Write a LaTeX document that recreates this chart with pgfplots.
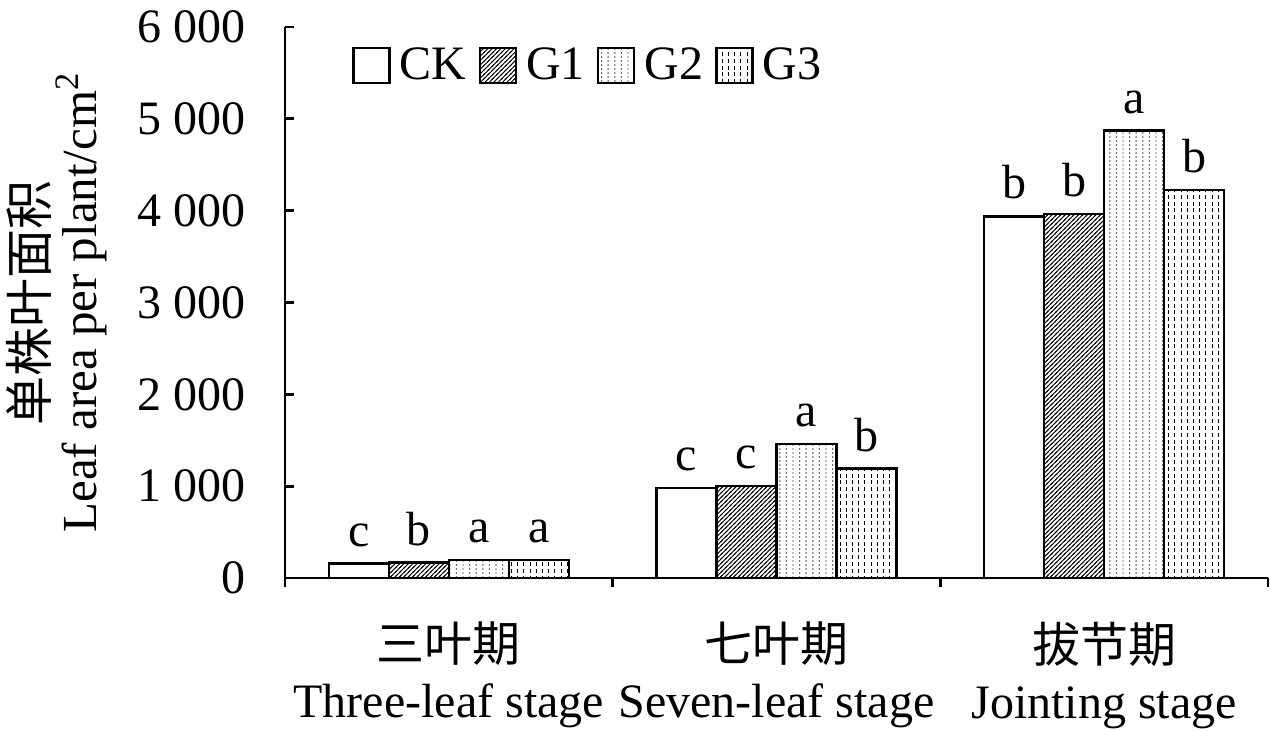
\documentclass[border=0pt]{standalone}
\usepackage{fontspec}
\setmainfont{Liberation Serif}
\newfontfamily\cjk{Noto Sans CJK SC}
\usepackage{pgfplots}
\pgfplotsset{compat=1.18}
\usetikzlibrary{patterns}

\pgfdeclarepatternformonly{mydiag}{\pgfpoint{-1pt}{-1pt}}{\pgfpoint{3.2pt}{3.2pt}}{\pgfpoint{2.2pt}{2.2pt}}{%
  \pgfsetlinewidth{0.45pt}\pgfpathmoveto{\pgfpoint{-0.5pt}{-0.5pt}}\pgfpathlineto{\pgfpoint{2.7pt}{2.7pt}}\pgfusepath{stroke}}
\pgfdeclarepatternformonly{mydots}{\pgfpoint{-0.5pt}{-0.5pt}}{\pgfpoint{3.8pt}{2.5pt}}{\pgfpoint{3.3pt}{2pt}}{%
  \pgfpathcircle{\pgfpoint{0.5pt}{0.5pt}}{0.36pt}\pgfusepath{fill}}
\pgfdeclarepatternformonly{myvdash}{\pgfpoint{-0.5pt}{-0.5pt}}{\pgfpoint{3.5pt}{4pt}}{\pgfpoint{3.1pt}{3.4pt}}{%
  \pgfsetlinewidth{0.45pt}\pgfpathmoveto{\pgfpoint{1.5pt}{0.4pt}}\pgfpathlineto{\pgfpoint{1.5pt}{2.4pt}}\pgfusepath{stroke}}

\begin{document}
\begin{tikzpicture}
\begin{axis}[
  scale only axis,
  width=491.5pt, height=275.5pt,
  font=\fontsize{24}{28}\selectfont,
  axis lines*=left,
  axis line style={line width=1.4pt},
  xmin=0, xmax=3, ymin=0, ymax=6000,
  xtick={0,1,2,3},
  x tick label as interval,
  xticklabels={{{\cjk 三叶期}\\Three-leaf stage},{{\cjk 七叶期}\\Seven-leaf stage},{{\cjk 拔节期}\\Jointing stage}},
  xticklabel style={align=center, yshift=-14pt},
  ytick={0,1000,2000,3000,4000,5000,6000},
  yticklabels={0,1 000,2 000,3 000,4 000,5 000,6 000},
  yticklabel style={xshift=-16pt},
  tick align=inside,
  major tick length=4.5pt,
  tick style={line width=1.4pt, black},
  ylabel={{\cjk 单株叶面积}\\Leaf area per plant/cm\textsuperscript{2}},
  ylabel style={at={(axis description cs:-0.232,0.5)}, anchor=center, align=center, font=\fontsize{24.5}{24.5}\selectfont},
  ybar=0pt,
  bar width=30pt,
  every axis plot post/.append style={
    draw=black, line width=1.3pt,
    legend image code/.code={\draw[##1, line width=1.3pt] (0pt,-8.75pt) rectangle (18pt,8.75pt);}},
  nodes near coords,
  point meta=explicit symbolic,
  every node near coord/.append style={font=\fontsize{24}{28}\selectfont, anchor=south, yshift=4.5pt},
  legend style={at={(0.062,0.975)}, anchor=north west, draw=none, fill=none,
    legend columns=4, font=\fontsize{24}{28}\selectfont,
    nodes={inner sep=1.5pt},
    /tikz/every odd column/.append style={column sep=3pt},
    /tikz/every even column/.append style={column sep=4.5pt}},
  clip=false,
]
\addplot[fill=white] coordinates {(0.5,155) [c] (1.5,978) [c] (2.5,3938) [b]};
\addplot[pattern=mydiag] coordinates {(0.5,168) [b] (1.5,1002) [c] (2.5,3962) [b]};
\addplot[pattern=mydots] coordinates {(0.5,195) [a] (1.5,1460) [a] (2.5,4873) [a]};
\addplot[pattern=myvdash] coordinates {(0.5,195) [a] (1.5,1190) [b] (2.5,4227) [b]};
\legend{CK,G1,G2,G3}
\end{axis}
\pgfresetboundingbox
\path (-142.5pt,-76pt) rectangle (492.5pt,289pt);
\end{tikzpicture}
\end{document}
